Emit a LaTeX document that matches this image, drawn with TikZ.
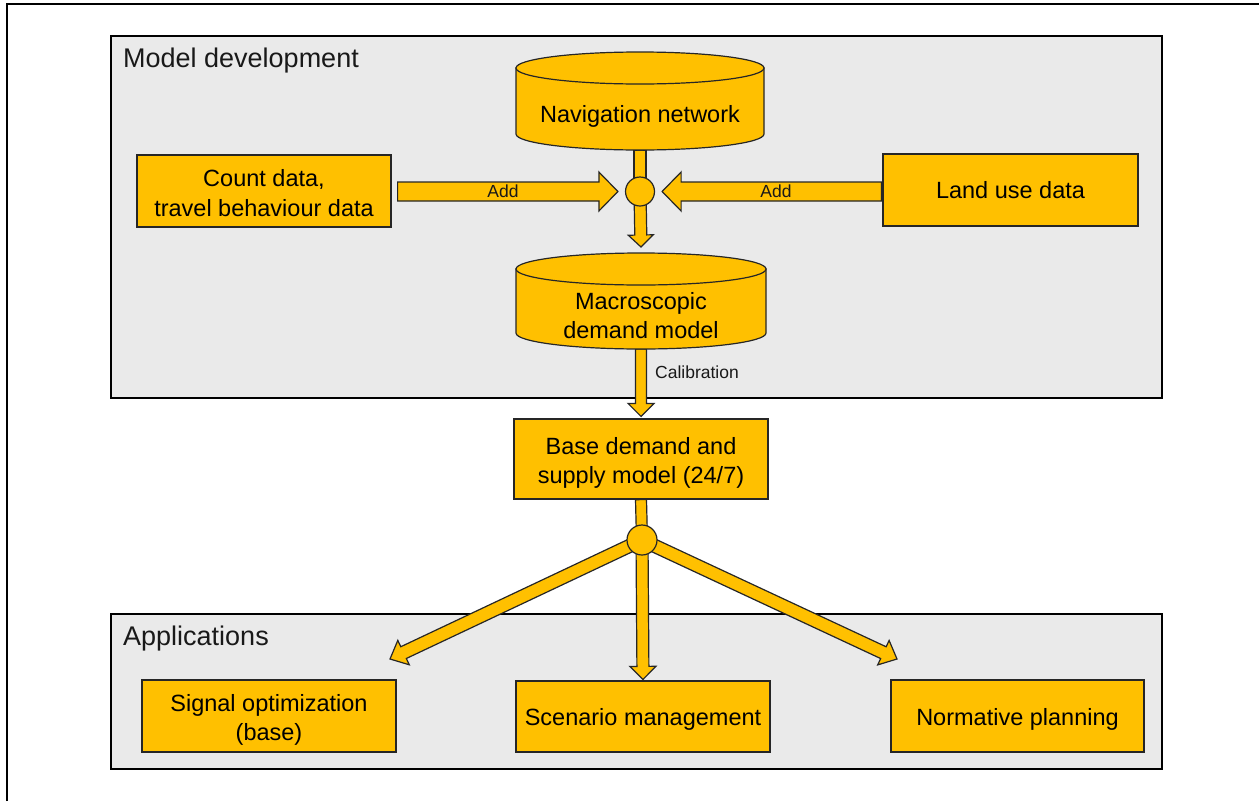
\documentclass[tikz,border=0pt]{standalone}
\usepackage{fontspec}
\setmainfont{Liberation Sans}
\usetikzlibrary{calc}
\definecolor{gold}{HTML}{FFC000}
\definecolor{panel}{HTML}{EAEAEA}
\definecolor{edge}{HTML}{262626}
\pgfdeclarelayer{under}
\pgfsetlayers{under,main}
\newcommand\mainfs{\fontsize{23.5}{29.5}\selectfont}
\newcommand\titlefs{\fontsize{27}{32}\selectfont}
\newcommand\smallfs{\fontsize{17.5}{21}\selectfont}
\newcommand\dnstrut[1]{\rule{0pt}{#1}}
% block arrow: start, tip, half shaft width, half head width, head length
\newcommand\blockarr[5]{%
  \coordinate (ba-h) at ($(#2)!#5!(#1)$);
  \filldraw[arrowfill]
    ($(#1)!#3!90:(#2)$) -- ($(ba-h)!#3!90:(#2)$) -- ($(ba-h)!#4!90:(#2)$)
    -- (#2) -- ($(ba-h)!#4!-90:(#2)$) -- ($(ba-h)!#3!-90:(#2)$)
    -- ($(#1)!#3!-90:(#2)$) -- cycle;}
% plain shaft: start, end, half width
\newcommand\stemline[3]{%
  \filldraw[arrowfill]
    ($(#1)!#3!90:(#2)$) -- ($(#2)!#3!-90:(#1)$) -- ($(#2)!#3!90:(#1)$)
    -- ($(#1)!#3!-90:(#2)$) -- cycle;}
% cylinder: cx, top-ellipse y, bottom-ellipse y, rx, ry
\newcommand\cylbody[5]{%
  \filldraw[arrowfill] ({#1-#4},{-#2}) -- ({#1-#4},{-#3})
    arc[start angle=180,end angle=360,x radius=#4,y radius=#5]
    -- ({#1+#4},{-#2}) -- cycle;
  \filldraw[arrowfill] (#1,-#2) ellipse[x radius=#4, y radius=#5];}
\begin{document}
\begin{tikzpicture}[x=1pt,y=1pt,
  arrowfill/.style={fill=gold, draw=edge, line width=1.2pt, line join=miter},
  box/.style={rectangle, draw=edge, fill=gold, line width=1.2pt,
    minimum width=254pt, minimum height=72pt, align=center, font=\mainfs, inner sep=0pt},
  jn/.style={circle, draw=edge, fill=gold, line width=1.2pt, minimum size=29pt, inner sep=0pt},
  panelbox/.style={draw=black, fill=panel, line width=2.2pt},
  lbl/.style={font=\smallfs, inner sep=0pt, text=black!90},
  ttl/.style={font=\titlefs, anchor=base west, inner sep=0pt, text=black!90},
  cyltext/.style={font=\mainfs, align=center, inner sep=0pt}
]
\useasboundingbox (0,0) rectangle (1259,-801);

\begin{pgfonlayer}{under}
\fill[white] (0,0) rectangle (1259,-801);
\draw[line width=2.2pt] (7,-801) -- (7,-4) -- (1259,-4);
\draw[panelbox] (111,-36) rectangle (1162,-398);
\draw[panelbox] (111,-614) rectangle (1162,-769);
\end{pgfonlayer}

\node[ttl] (mdtitle) at (123,-67) {Model development};
\node[ttl] (aptitle) at (123,-645) {Applications};

% cylinders
\cylbody{640}{68}{134}{124}{16}
\node[cyltext] (nav) at (640,-116.5) {Navigation network};
\coordinate (nav-bot) at (640,-150);
\cylbody{641}{269}{333}{125}{16}
\node[cyltext] (mac) at (641,-315.5) {Macroscopic\\demand model};
\coordinate (mac-tip) at (641,-247);
\coordinate (mac-bot) at (641,-349);

% boxes
\node[box] (count) at (264,-191) {\dnstrut{21.5pt}Count data,\\travel behaviour data};
\node[box, minimum width=255pt] (land) at (1010.5,-190) {Land use data};
\node[box, minimum height=80pt] (base) at (641,-459) {\dnstrut{25.2pt}Base demand and\\supply model (24/7)};
\node[box] (signal) at (269,-716) {\dnstrut{25.2pt}Signal optimization\\(base)};
\node[box, minimum height=71pt] (scen) at (643,-716.5) {\dnstrut{23.2pt}Scenario management};
\node[box, minimum width=253pt] (norm) at (1017.5,-716) {\dnstrut{23.2pt}Normative planning};

% junctions
\node[jn] (j1) at (640,-191.5) {};
\node[jn, minimum size=30pt] (j2) at (642,-540) {};

\coordinate (addL-s) at ($(count.east)+(6,-0.5)$);
\coordinate (addL-t) at ($(j1.west)+(-7,0)$);
\coordinate (addR-s) at ($(land.west)+(-1,-1.5)$);
\coordinate (addR-t) at ($(j1.east)+(7,0)$);
\coordinate (cal-t) at ($(base.north)+(0,2)$);
\coordinate (sig-tip) at (390,-659);
\coordinate (scen-tip) at ($(scen.north)+(0,1)$);
\coordinate (norm-tip) at (897,-659);

\begin{pgfonlayer}{under}
\stemline{nav-bot}{j1.center}{6pt}
\blockarr{j1.center}{mac-tip}{6pt}{12.5pt}{12pt}
\blockarr{addL-s}{addL-t}{9.5pt}{19.5pt}{19pt}
\blockarr{addR-s}{addR-t}{9.5pt}{19.5pt}{19pt}
\blockarr{mac-bot}{cal-t}{5.5pt}{13pt}{13pt}
\stemline{base.south}{j2.center}{5.5pt}
\blockarr{j2.center}{sig-tip}{6.5pt}{13.5pt}{15pt}
\blockarr{j2.center}{scen-tip}{6pt}{13pt}{13pt}
\blockarr{j2.center}{norm-tip}{6.5pt}{13.5pt}{15pt}
\end{pgfonlayer}

\node[lbl] (addL) at (503,-191) {Add};
\node[lbl] (addR) at (776,-191) {Add};
\node[lbl, anchor=base west] (cal) at (655,-378) {Calibration};
\end{tikzpicture}
\end{document}
